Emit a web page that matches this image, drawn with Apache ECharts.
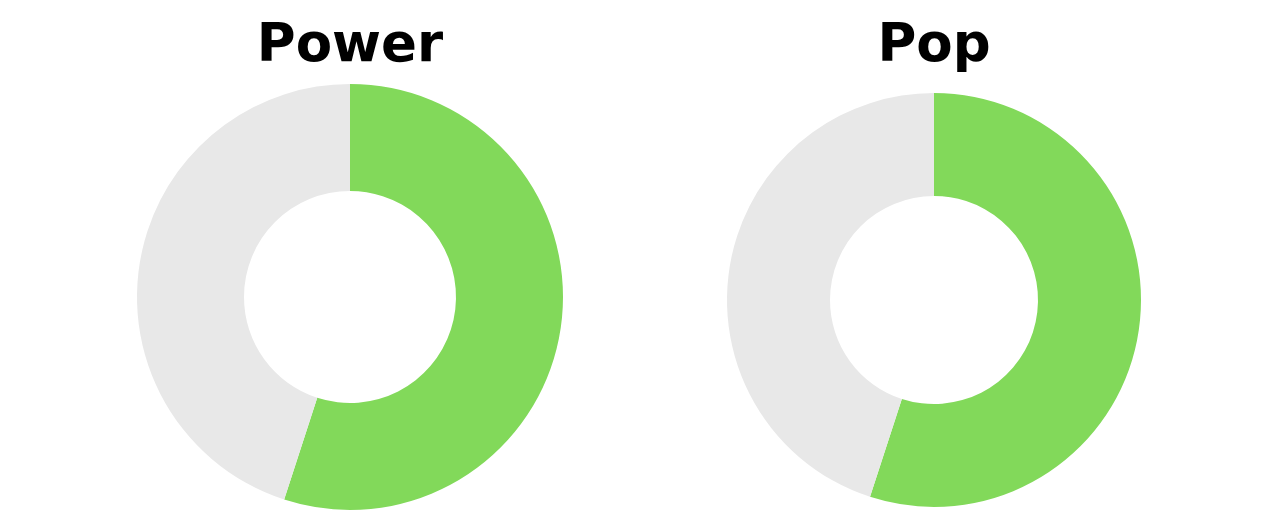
<!DOCTYPE html>
<html>
<head>
<meta charset="utf-8">
<script src="https://cdn.jsdelivr.net/npm/echarts@6/dist/echarts.min.js"></script>
<style>
  html, body { margin: 0; padding: 0; background: #fff; }
  #chart { width: 1280px; height: 520px; }
</style>
</head>
<body>
<div id="chart"></div>
<script>
// chart titles and the share of each ring (filled part, rest)
var titles = ["Power", "Pop"];
var filled = [55, 55];
var rest = [45, 45];

var centers = [[350, 297], [934, 300]];
var radii = [[106, 213], [104, 207]];
var green = "#82d95a";
var grey = "#e8e8e8";

var myChart = echarts.init(document.getElementById("chart"));

var option = {
    animation: false,
    title: titles.map(function (t, i) {
        return {
            text: t,
            left: centers[i][0],
            top: 21,
            padding: 0,
            textAlign: "center",
            textStyle: {
                fontFamily: "DejaVu Sans",
                fontWeight: "bold",
                fontSize: 53,
                color: "#000"
            }
        };
    }),
    series: titles.map(function (t, i) {
        return {
            type: "pie",
            name: t,
            center: centers[i],
            radius: radii[i],
            startAngle: 90,
            clockwise: true,
            silent: true,
            label: { show: false },
            labelLine: { show: false },
            data: [
                { value: filled[i], name: "filled", itemStyle: { color: green } },
                { value: rest[i], name: "rest", itemStyle: { color: grey } }
            ]
        };
    })
};

myChart.setOption(option);
</script>
</body>
</html>
